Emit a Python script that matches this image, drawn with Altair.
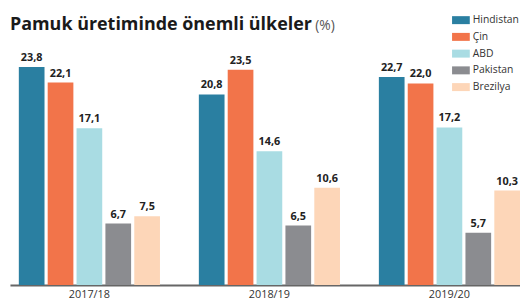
import altair as alt
import pandas as pd

years = ["2017/18", "2018/19", "2019/20"]
countries = ["Hindistan", "Çin", "ABD", "Pakistan", "Brezilya"]
hindistan = [23.8, 20.8, 22.7]
cin = [22.1, 23.5, 22.0]
abd = [17.1, 14.6, 17.2]
pakistan = [6.7, 6.5, 5.7]
brezilya = [7.5, 10.6, 10.3]
colors = ["#2a7fa1", "#f2744a", "#a9dce3", "#8b8c90", "#fdd6b8"]
title_text = "Pamuk üretiminde önemli ülkeler"
unit_text = "(%)"

series = [hindistan, cin, abd, pakistan, brezilya]
rows = []
for c, vals in zip(countries, series):
    for y, v in zip(years, vals):
        rows.append({"year": y, "country": c, "value": v,
                     "label": f"{v:.1f}".replace(".", ",")})
df = pd.DataFrame(rows)

FONT = "Open Sans"

x_enc = alt.X("year:N", sort=years, title=None,
              scale=alt.Scale(paddingInner=0.216, paddingOuter=0.0246, align=1),
              axis=alt.Axis(domainColor="#666666", domainWidth=2, ticks=False,
                            labelAngle=0, labelFont=FONT, labelFontSize=11,
                            labelColor="#333333", labelPadding=4, grid=False))
xo_enc = alt.XOffset("country:N", sort=countries,
                     scale=alt.Scale(domain=countries, paddingInner=0.11, paddingOuter=0))
y_enc = alt.Y("value:Q", scale=alt.Scale(domain=[0, 26], nice=False), axis=None)

bars = alt.Chart(df).mark_bar().encode(
    x=x_enc, xOffset=xo_enc, y=y_enc,
    color=alt.Color("country:N", sort=countries,
                    scale=alt.Scale(domain=countries, range=colors),
                    legend=alt.Legend(orient="none", legendX=449, legendY=-36, title=None,
                                      symbolType="M-1,-0.45H1V0.45H-1Z", symbolSize=324,
                                      symbolStrokeWidth=0, labelFont=FONT, labelFontSize=10.5,
                                      labelColor="#333333", labelOffset=3, rowPadding=2)),
)

labels = alt.Chart(df).mark_text(baseline="bottom", dy=-4, font=FONT, fontSize=11,
                                 fontWeight="bold", color="#222222").encode(
    x=x_enc, xOffset=xo_enc, y=y_enc, text="label:N")

title = alt.Chart(pd.DataFrame({"t": [title_text]})).mark_text(
    align="left", baseline="alphabetic", font=FONT, fontSize=18.2, fontWeight="bold",
    color="#1a1a1a").encode(text="t:N", x=alt.value(0), y=alt.value(-17))

unit = alt.Chart(pd.DataFrame({"t": [unit_text]})).mark_text(
    align="left", baseline="alphabetic", font=FONT, fontSize=14,
    color="#555555").encode(text="t:N", x=alt.value(310), y=alt.value(-17))

topline = alt.Chart(pd.DataFrame({"a": [0]})).mark_rule(color="#9a9a9a", strokeWidth=2).encode(
    x=alt.value(-2), x2=alt.value(518), y=alt.value(-42))

chart = alt.layer(bars, labels, title, unit, topline).properties(
    width=518, height=242, autosize="none",
    padding={"left": 2, "top": 37, "right": 0, "bottom": 20},
).configure_view(stroke=None)

chart.save("out.html", embed_options={"renderer": "svg", "actions": False})
